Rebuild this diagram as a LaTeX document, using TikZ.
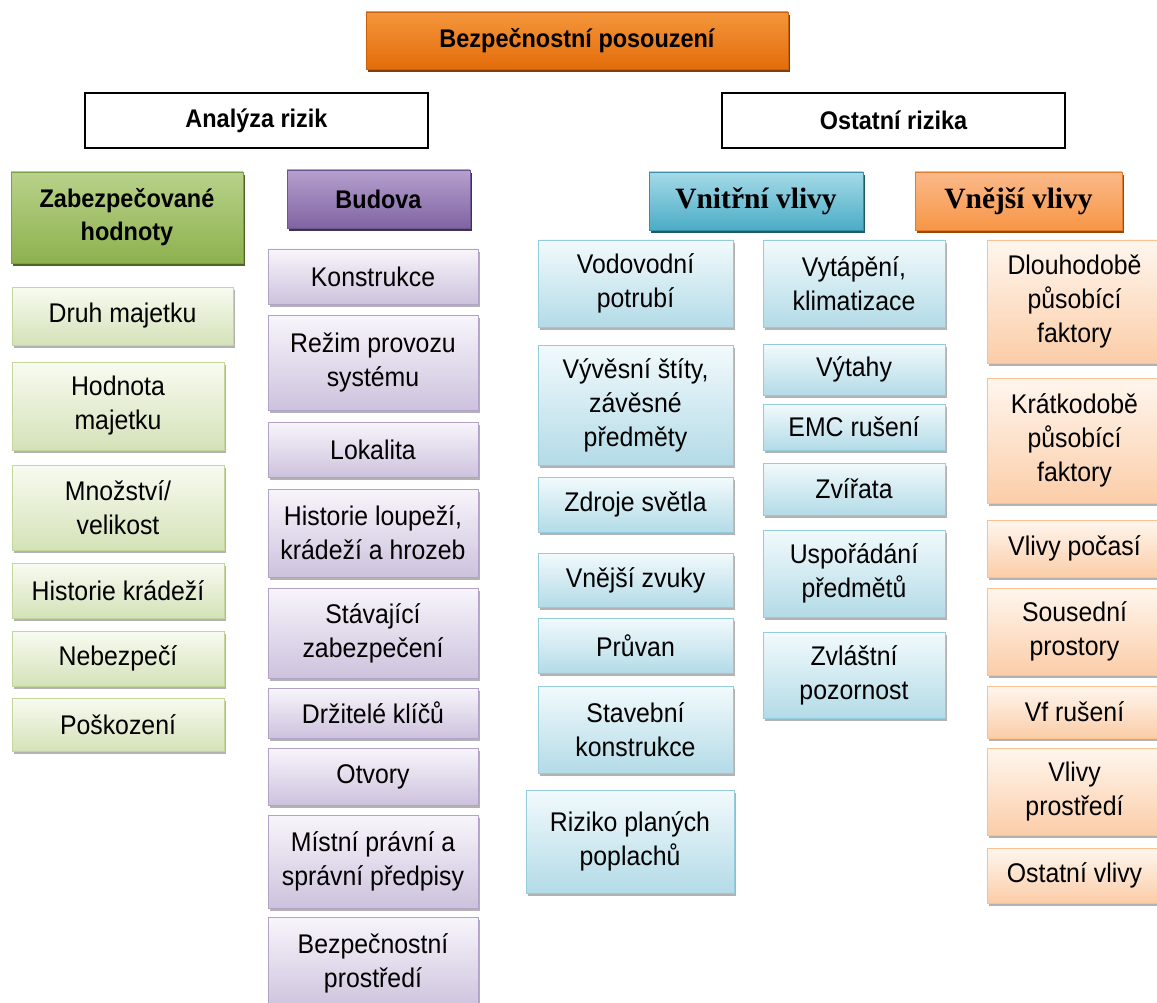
\documentclass[tikz,border=0pt]{standalone}
\usepackage{fontspec}
\setmainfont[FakeStretch=0.92]{Liberation Sans}
\newfontfamily\serifhead{Liberation Serif}
\usetikzlibrary{shadows}

\definecolor{topA}{HTML}{F4963C}\definecolor{topB}{HTML}{E46C0A}\definecolor{topL}{HTML}{C9600E}\definecolor{topS}{HTML}{7F3F0A}
\definecolor{gHA}{HTML}{B8D28A}\definecolor{gHB}{HTML}{8EB14E}\definecolor{gHL}{HTML}{7D9F45}\definecolor{gHS}{HTML}{4F6228}
\definecolor{pHA}{HTML}{B5A0CF}\definecolor{pHB}{HTML}{8064A2}\definecolor{pHL}{HTML}{6F558F}\definecolor{pHS}{HTML}{3F3151}
\definecolor{bHA}{HTML}{A5DAE8}\definecolor{bHB}{HTML}{4BACC6}\definecolor{bHL}{HTML}{3A8EA5}\definecolor{bHS}{HTML}{215967}
\definecolor{oHA}{HTML}{FBB98A}\definecolor{oHB}{HTML}{F79646}\definecolor{oHL}{HTML}{E07B2C}\definecolor{oHS}{HTML}{984807}
\definecolor{gIA}{HTML}{F8FBF1}\definecolor{gIB}{HTML}{D4E2B8}\definecolor{gIL}{HTML}{C3D69B}
\definecolor{pIA}{HTML}{F8F5FB}\definecolor{pIB}{HTML}{CDC2DD}\definecolor{pIL}{HTML}{B3A2C7}
\definecolor{bIA}{HTML}{F2FAFC}\definecolor{bIB}{HTML}{B3DBE7}\definecolor{bIL}{HTML}{93CDDD}
\definecolor{oIA}{HTML}{FFF6EE}\definecolor{oIB}{HTML}{FBCDA8}\definecolor{oIL}{HTML}{FAC090}

\tikzset{
  base/.style={rectangle, inner sep=0pt, outer sep=0pt, align=center, text=black,
    font=\fontsize{27}{34}\selectfont},
  sz/.style 2 args={minimum width=#1pt, minimum height=#2pt},
  headbold/.style={font=\fontsize{25.5}{33}\selectfont\bfseries},
  headserif/.style={font=\fontsize{29.5}{34}\selectfont\serifhead\bfseries},
  hdr/.style n args={4}{base, shading=axis, top color=#1, bottom color=#2, draw=#3, line width=0.8pt,
    drop shadow={shadow xshift=1.5pt, shadow yshift=-3.5pt, fill=#4, opacity=1}},
  itm/.style n args={3}{base, shading=axis, top color=#1, bottom color=#2, draw=#3, line width=0.8pt,
    drop shadow={shadow xshift=2pt, shadow yshift=-3pt, fill=black, opacity=0.3}},
  gitem/.style={itm={gIA}{gIB}{gIL}},
  pitem/.style={itm={pIA}{pIB}{pIL}},
  bitem/.style={itm={bIA}{bIB}{bIL}},
  oitem/.style={itm={oIA}{oIB}{oIL}},
  plain/.style={base, headbold, draw=black, line width=1.3pt, fill=white},
}

\begin{document}
\begin{tikzpicture}[x=1pt, y=-1pt]
\useasboundingbox (0,0) rectangle (1157,1003);

% top
\node[hdr={topA}{topB}{topL}{topS}, headbold, sz={422}{57}] (top) at (577,40.5) {Bezpečnostní posouzení};
\node[plain, sz={343}{55}] (analyza) at (256.5,120.5) {Analýza rizik};
\node[plain, sz={343}{55}] (ostatni) at (893.5,120.5) {Ostatní rizika};

% green column
\node[hdr={gHA}{gHB}{gHL}{gHS}, headbold, sz={232}{91}] (zab) at (127,217.5) {Zabezpečované\\hodnoty};
\node[gitem, sz={221}{58}] (g1) at (122.5,316) {Druh majetku};
\node[gitem, sz={212}{88}] (g2) at (118,406) {Hodnota\\majetku};
\node[gitem, sz={212}{85}] (g3) at (118,507.5) {Množství/\\velikost};
\node[gitem, sz={212}{55}] (g4) at (118,590.5) {Historie krádeží};
\node[gitem, sz={212}{55}] (g5) at (118,658.5) {Nebezpečí};
\node[gitem, sz={212}{53}] (g6) at (118,724.5) {Poškození};

% purple column
\node[hdr={pHA}{pHB}{pHL}{pHS}, headbold, sz={183}{58}] (bud) at (378.5,199) {Budova};
\node[pitem, sz={210}{55}] (p1) at (373,276.5) {Konstrukce};
\node[pitem, sz={210}{95}] (p2) at (373,362.5) {Režim provozu\\systému};
\node[pitem, sz={210}{55}] (p3) at (373,449.5) {Lokalita};
\node[pitem, sz={210}{88}] (p4) at (373,533) {Historie loupeží,\\krádeží a hrozeb};
\node[pitem, sz={210}{90}] (p5) at (373,633) {Stávající\\zabezpečení};
\node[pitem, sz={210}{50}] (p6) at (373,713) {Držitelé klíčů};
\node[pitem, sz={210}{57}] (p7) at (373,776.5) {Otvory};
\node[pitem, sz={210}{93}] (p8) at (373,861.5) {Místní právní a\\správní předpisy};
\node[pitem, sz={210}{93}] (p9) at (373,963.5) {Bezpečnostní\\prostředí};

% blue headers
\node[hdr={bHA}{bHB}{bHL}{bHS}, headserif, sz={214}{58}] (vni) at (756,201) {Vnitřní vlivy};
\node[hdr={oHA}{oHB}{oHL}{oHS}, headserif, sz={207}{58}] (vne) at (1018.5,201) {Vnější vlivy};

% blue column A
\node[bitem, sz={195}{87}] (a1) at (635.5,283.5) {Vodovodní\\potrubí};
\node[bitem, sz={195}{120}] (a2) at (635.5,405) {Vývěsní štíty,\\závěsné\\předměty};
\node[bitem, sz={195}{55}] (a3) at (635.5,504.5) {Zdroje světla};
\node[bitem, sz={195}{54}] (a4) at (635.5,580) {Vnější zvuky};
\node[bitem, sz={195}{55}] (a5) at (635.5,645.5) {Průvan};
\node[bitem, sz={195}{87}] (a6) at (635.5,729.5) {Stavební\\konstrukce};
\node[bitem, sz={208}{103}] (a7) at (630,841.5) {Riziko planých\\poplachů};

% blue column B
\node[bitem, sz={182}{87}] (b1) at (854,283.5) {Vytápění,\\klimatizace};
\node[bitem, sz={182}{51}] (b2) at (854,369.5) {Výtahy};
\node[bitem, sz={182}{46}] (b3) at (854,427) {EMC rušení};
\node[bitem, sz={182}{52}] (b4) at (854,489) {Zvířata};
\node[bitem, sz={182}{87}] (b5) at (854,573.5) {Uspořádání\\předmětů};
\node[bitem, sz={182}{86}] (b6) at (854,675) {Zvláštní\\pozornost};

% orange column
\node[oitem, sz={175}{123}] (o1) at (1074.5,301.5) {Dlouhodobě\\působící\\faktory};
\node[oitem, sz={175}{125}] (o2) at (1074.5,440.5) {Krátkodobě\\působící\\faktory};
\node[oitem, sz={175}{57}] (o3) at (1074.5,548.5) {Vlivy počasí};
\node[oitem, sz={175}{87}] (o4) at (1074.5,631.5) {Sousední\\prostory};
\node[oitem, sz={175}{52}] (o5) at (1074.5,712) {Vf rušení};
\node[oitem, sz={175}{87}] (o6) at (1074.5,791.5) {Vlivy\\prostředí};
\node[oitem, sz={175}{55}] (o7) at (1074.5,875.5) {Ostatní vlivy};
\end{tikzpicture}
\end{document}
